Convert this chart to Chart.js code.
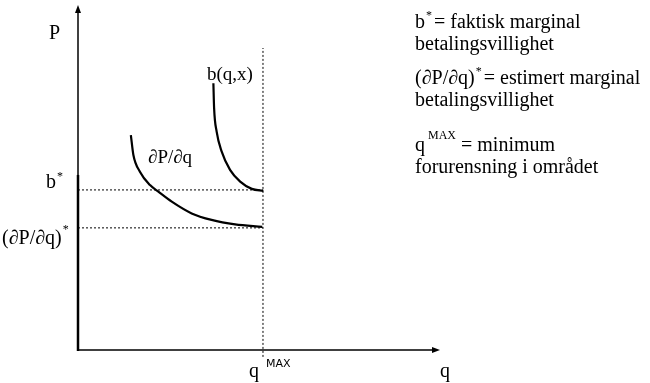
<!DOCTYPE html>
<html>
<head>
<meta charset="utf-8">
<script src="https://cdn.jsdelivr.net/npm/chart.js@4"></script>
<style>
    html, body { margin: 0; padding: 0; background: #fff; }
    #wrap { width: 650px; height: 383px; }
</style>
</head>
<body>
<div id="wrap"><canvas id="diagram" width="650" height="383"></canvas></div>
<script>
// kurvene lest av figuren (q, P)
const bCurveQ = [37.4, 37.6, 38.3, 39.7, 42.0, 44.8, 48.0, 51.2];
const bCurveP = [77.3, 70.1, 63.3, 57.5, 52.2, 48.8, 46.7, 46.1];
const dpCurveQ = [14.6, 15.3, 17.1, 19.9, 22.2, 25.9, 31.4, 36.9, 43.4, 50.9];
const dpCurveP = [62.3, 56.5, 51.7, 47.8, 45.9, 43.0, 39.6, 37.7, 36.4, 35.7];

// nivåer på aksene
const qMax = 51.1;
const qMaxTop = 87.5;
const bStar = 46.4;
const dpStar = 35.4;

const serif = "'Liberation Serif', 'DejaVu Serif', serif";

function toPoints(xs, ys) {
    return xs.map(function (x, i) { return { x: x, y: ys[i] }; });
}

// akser, piler og tekst
const diagramPlugin = {
    id: 'diagram',
    afterDraw: function (chart) {
        const ctx = chart.ctx;
        const xs = chart.scales.x;
        const ys = chart.scales.y;
        const x0 = xs.getPixelForValue(0);
        const y0 = ys.getPixelForValue(0);
        const xEnd = xs.getPixelForValue(100);
        const yEnd = ys.getPixelForValue(100);
        const yThick = ys.getPixelForValue(bStar) - 15;

        ctx.save();
        ctx.strokeStyle = '#000';
        ctx.fillStyle = '#000';

        ctx.lineWidth = 1.5;
        ctx.beginPath();
        ctx.moveTo(x0, yThick);
        ctx.lineTo(x0, yEnd + 4);
        ctx.stroke();
        ctx.lineWidth = 2.5;
        ctx.beginPath();
        ctx.moveTo(x0, y0 + 1);
        ctx.lineTo(x0, yThick);
        ctx.stroke();

        ctx.lineWidth = 1.5;
        ctx.beginPath();
        ctx.moveTo(x0 - 1, y0);
        ctx.lineTo(xEnd - 4, y0);
        ctx.stroke();

        // pilspisser
        ctx.beginPath();
        ctx.moveTo(x0, yEnd);
        ctx.lineTo(x0 - 3, yEnd + 8);
        ctx.lineTo(x0 + 3, yEnd + 8);
        ctx.closePath();
        ctx.fill();
        ctx.beginPath();
        ctx.moveTo(xEnd, y0);
        ctx.lineTo(xEnd - 8, y0 - 3);
        ctx.lineTo(xEnd - 8, y0 + 3);
        ctx.closePath();
        ctx.fill();

        ctx.textBaseline = 'alphabetic';
        ctx.textAlign = 'left';
        const big = '20px ' + serif;
        const sup = '12px ' + serif;

        function text(str, x, y, font) {
            ctx.font = font || big;
            ctx.fillText(str, x, y);
            return x + ctx.measureText(str).width;
        }

        // aksetekster
        text('P', 49, 39);
        let e = text('b', 46, ys.getPixelForValue(bStar) - 2);
        text('*', e + 1, ys.getPixelForValue(bStar) - 10, sup);
        e = text('(\u2202P/\u2202q)', 2, ys.getPixelForValue(dpStar) + 16);
        text('*', e + 1, ys.getPixelForValue(dpStar) + 5, sup);

        const qx = xs.getPixelForValue(qMax);
        text('q', qx - 14, y0 + 27);
        text('MAX', qx + 3, y0 + 17, "11px 'DejaVu Sans', sans-serif");
        text('q', xEnd, y0 + 27);

        // kurvenavn
        text('\u2202P/\u2202q', 148, 163, '19px ' + serif);
        text('b(q,x)', 207, 80, '19px ' + serif);

        // forklaring til høyre
        const lx = 415;
        e = text('b', lx, 28);
        text('*', e + 1, 19, sup);
        text(' = faktisk marginal', e + 4, 28);
        text('betalingsvillighet', lx, 50);
        e = text('(\u2202P/\u2202q)', lx, 84);
        text('*', e + 1, 75, sup);
        text(' = estimert marginal', e + 4, 84);
        text('betalingsvillighet', lx, 106);
        e = text('q', lx, 151);
        e = text(' MAX', e, 139, '12px ' + serif);
        text(' = minimum', e, 151);
        text('forurensning i området', lx, 173);

        ctx.restore();
    }
};

const dotted = {
    borderColor: '#000',
    borderWidth: 1,
    borderDash: [2, 2],
    pointRadius: 0,
    fill: false
};

const curve = {
    borderColor: '#000',
    borderWidth: 2.2,
    pointRadius: 0,
    cubicInterpolationMode: 'monotone'
};

new Chart(document.getElementById('diagram'), {
    type: 'scatter',
    data: {
        datasets: [
            Object.assign({ data: [{ x: 0, y: bStar }, { x: qMax, y: bStar }] }, dotted),
            Object.assign({ data: [{ x: 0, y: dpStar }, { x: qMax, y: dpStar }] }, dotted),
            Object.assign({ data: [{ x: qMax, y: -2 }, { x: qMax, y: qMaxTop }] }, dotted),
            Object.assign({ data: toPoints(bCurveQ, bCurveP) }, curve),
            Object.assign({ data: toPoints(dpCurveQ, dpCurveP) }, curve)
        ]
    },
    options: {
        responsive: false,
        animation: false,
        showLine: true,
        clip: false,
        layout: {
            padding: { left: 78, right: 210, top: 5, bottom: 33 }
        },
        plugins: {
            legend: { display: false },
            tooltip: { enabled: false }
        },
        scales: {
            x: { type: 'linear', min: 0, max: 100, display: false },
            y: { type: 'linear', min: 0, max: 100, display: false }
        }
    },
    plugins: [diagramPlugin]
});
</script>
</body>
</html>
